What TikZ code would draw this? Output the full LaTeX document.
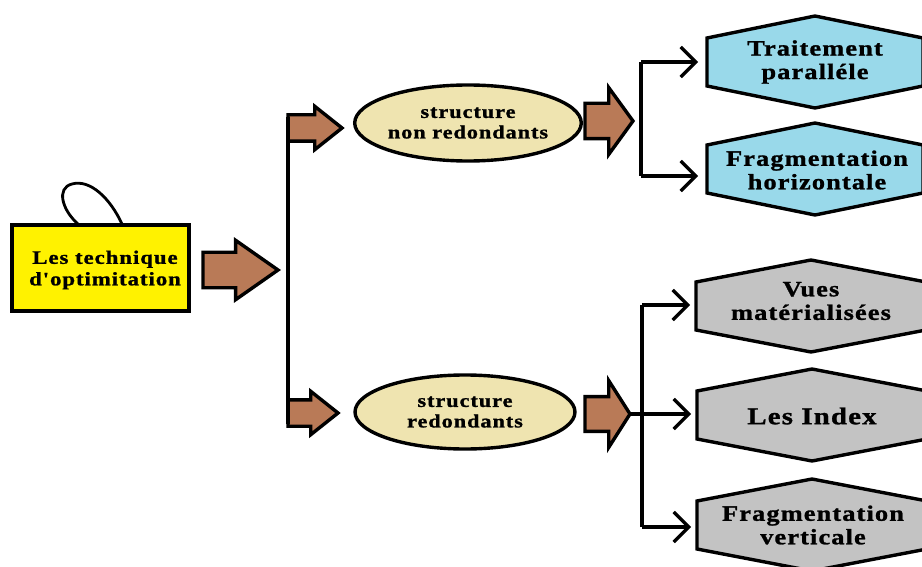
\documentclass[tikz,border=0pt]{standalone}
\usepackage{fontspec}
\usetikzlibrary{shapes.arrows,shapes.geometric,arrows.meta}
\newfontfamily\lblfont[FakeStretch=1.2,LetterSpace=5,FakeBold=1.2]{Liberation Serif}

\definecolor{boxyellow}{HTML}{FFF200}
\definecolor{arrowbrown}{HTML}{B97A57}
\definecolor{wheat}{HTML}{EFE4B0}
\definecolor{hexblue}{HTML}{99D9EA}
\definecolor{hexgray}{HTML}{C3C3C3}

\tikzset{
  blockarrow/.style={single arrow, draw=black, fill=arrowbrown, line width=3.4pt,
    inner xsep=0pt, single arrow head indent=0pt, outer sep=0pt, anchor=tip},
  link/.style={draw=black, line width=3.4pt},
  barb/.style={-{Straight Barb[length=15pt,width=30pt,line width=3.2pt]}},
  bubble/.style={ellipse, draw=black, line width=3.4pt, fill=wheat, inner sep=0pt,
    minimum width=220pt, align=center,
    font=\lblfont\bfseries\fontsize{18.6}{20.5}\selectfont},
  hexa/.pic={\draw[pic actions, line width=3.4pt]
    (-#1,-24) -- (0,-46) -- (#1,-24) -- (#1,24) -- (0,46) -- (-#1,24) -- cycle;},
  hexlabel/.style={inner sep=0pt, outer sep=0pt, align=center,
    font=\lblfont\bfseries\fontsize{22}{23.5}\selectfont},
}

\begin{document}
\begin{tikzpicture}[x=1pt,y=-1pt]
  \useasboundingbox[fill=white] (0,0) rectangle (922,567);

  % root box with its hanging loop
  \node[draw=black, line width=3.4pt, fill=boxyellow, minimum width=177pt,
        minimum height=86pt, inner sep=0pt, outer sep=0pt] (root) at (100.5,268) {};
  \node[align=center, font=\lblfont\bfseries\fontsize{19}{21.5}\selectfont] (roottext)
        at (105,270) {Les technique\\d'optimitation};
  \coordinate (loopL) at (78,224);
  \coordinate (loopR) at (122,224);
  \draw[line width=2.8pt] (loopL) .. controls (62,210) and (56,188) .. (72,184)
        .. controls (90,179) and (110,198) .. (loopR);

  % block arrows
  \node[blockarrow, minimum height=75pt, inner ysep=16pt,
        single arrow head extend=12pt, single arrow tip angle=70] (A1) at (278,270) {};
  \node[blockarrow, minimum height=54pt, inner ysep=11.5pt,
        single arrow head extend=8.5pt, single arrow tip angle=77] (A2) at (342,128) {};
  \node[blockarrow, minimum height=50pt, inner ysep=11.5pt,
        single arrow head extend=8.5pt, single arrow tip angle=77] (A3) at (338,413) {};
  \node[blockarrow, minimum height=48pt, inner ysep=16pt,
        single arrow head extend=15.7pt, single arrow tip angle=108] (A4) at (633,121) {};
  \node[blockarrow, minimum height=45pt, inner ysep=15.7pt,
        single arrow head extend=16pt, single arrow tip angle=115] (A5) at (630,414) {};

  % trunk joining the two small arrows
  \coordinate (trunkTop) at (288,117);
  \coordinate (trunkBot) at (288,424);
  \draw[link] (trunkTop) -- (trunkBot);

  % the two structure ellipses
  \node[bubble, minimum height=76pt] (E1) at (468,123) {structure\\non redondants};
  \node[bubble, minimum height=74pt] (E2) at (465,412) {structure\\redondants};

  % hexagons
  \pic[fill=hexblue, draw=black] at (815,62) {hexa=108};
  \pic[fill=hexblue, draw=black] at (815,169) {hexa=108};
  \pic[fill=hexgray, draw=black] at (811,306) {hexa=115};
  \pic[fill=hexgray, draw=black] at (812,415) {hexa=115};
  \pic[fill=hexgray, draw=black] at (812,525) {hexa=115};

  \node[hexlabel, minimum width=216pt] (H1) at (815,62) {Traitement\\paralléle};
  \node[hexlabel, minimum width=216pt] (H2) at (817,170) {Fragmentation\\horizontale};
  \node[hexlabel, minimum width=230pt] (H3) at (811,301) {Vues\\matérialisées};
  \node[hexlabel, minimum width=230pt, font=\lblfont\bfseries\fontsize{24}{25}\selectfont]
        (H4) at (812,416) {Les Index};
  \node[hexlabel, minimum width=230pt] (H5) at (813,525) {Fragmentation\\verticale};

  % upper bracket
  \coordinate (UBt) at (641,62);
  \coordinate (UBb) at (641,176);
  \draw[link] (UBt) -- (UBb);
  \draw[link, barb, shorten >=9pt] (UBt) -- (UBt -| H1.west);
  \draw[link, barb, shorten >=11pt] (UBb) -- (UBb -| H2.west);

  % lower bracket
  \coordinate (LBt) at (642,305);
  \coordinate (LBb) at (642,527);
  \draw[link] (LBt) -- (LBb);
  \draw[link, barb, shorten >=6pt] (LBt) -- (LBt -| H3.west);
  \draw[link, barb, shorten >=6pt] (A5.tip) -- (A5.tip -| H4.west);
  \draw[link, barb, shorten >=7pt] (LBb) -- (LBb -| H5.west);
\end{tikzpicture}
\end{document}
